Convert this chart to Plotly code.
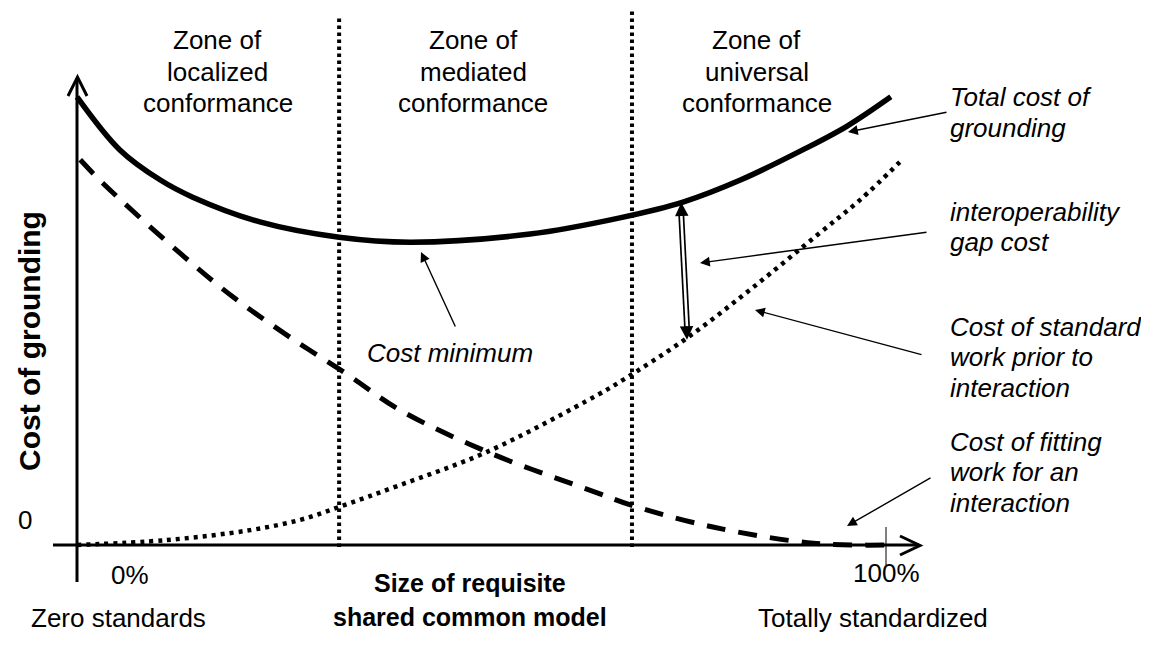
import plotly.graph_objects as go

# ---------------- data (conceptual units: x = % standardization, y = cost) ----------------
total_x = [0.0, 5.3, 10.3, 14.3, 22.6, 32.4, 41.2, 56.0, 67.1, 74.9, 82.0, 89.7, 95.2, 100.6]
total_y = [99.6, 87.8, 81.1, 77.3, 71.8, 68.4, 67.3, 69.1, 72.7, 76.2, 81.1, 87.8, 93.1, 99.6]

fit_x = [0.4, 3.2, 12.7, 19.3, 26.3, 33.5, 39.9, 51.1, 64.3, 68.4, 78.6, 91.0, 100.0]
fit_y = [85.6, 80.4, 64.9, 55.1, 46.2, 37.8, 30.0, 20.4, 11.6, 8.9, 4.0, 0.4, 0.0]

std_x = [0.0, 11.1, 21.4, 27.6, 32.3, 39.9, 50.7, 64.3, 67.5, 75.4, 83.6, 91.5, 96.8, 101.7]
std_y = [0.0, 1.1, 3.3, 5.6, 8.4, 13.3, 20.7, 33.3, 36.7, 46.0, 57.3, 68.9, 76.7, 85.1]

zone_bounds = [32.4, 68.6]
zone_centers = [17.4, 49.0, 84.0]
zone_labels = [["Zone of", "localized", "conformance"],
               ["Zone of", "mediated", "conformance"],
               ["Zone of", "universal", "conformance"]]

gap_top = (74.7, 76.1)
gap_bottom = (75.4, 45.6)

x_tick_labels = ["0%", "100%"]
x_tick_values = [0, 100]
y_tick_labels = ["0"]

series_labels = [["Total cost of", "grounding"],
                 ["interoperability", "gap cost"],
                 ["Cost of standard", "work prior to", "interaction"],
                 ["Cost of fitting", "work for an", "interaction"]]

# ---------------- layout geometry ----------------
PAGE_W, PAGE_H = 1149, 648
OFF = 8                                   # default body margin of the page
W, H = PAGE_W - OFF, PAGE_H - OFF
X_PX0, X_SCALE = 77.0, 8.09     # screen pixel of x=0, pixels per unit
Y_PX0, Y_SCALE = 545.0, 4.5     # screen pixel of y=0, pixels per unit


def X(px):
    return (px - X_PX0) / X_SCALE


def Y(py):
    return (Y_PX0 - py) / Y_SCALE


FONT = "Liberation Sans, Arial, sans-serif"
FS = 25

fig = go.Figure()

# curves
fig.add_trace(go.Scatter(x=fit_x, y=fit_y, mode="lines", line_shape="spline",
                         line=dict(color="black", width=5, dash="19px,13px"),
                         hoverinfo="skip", showlegend=False))
fig.add_trace(go.Scatter(x=std_x, y=std_y, mode="lines", line_shape="spline",
                         line=dict(color="black", width=4.5, dash="4px,5px"),
                         hoverinfo="skip", showlegend=False))
fig.add_trace(go.Scatter(x=total_x, y=total_y, mode="lines", line_shape="spline",
                         line=dict(color="black", width=5.5),
                         hoverinfo="skip", showlegend=False))

# gap double arrow shaft (hollow)
sx = [gap_top[0], gap_bottom[0]]
sy = [gap_top[1] - 13 / Y_SCALE, gap_bottom[1] + 13 / Y_SCALE]
fig.add_trace(go.Scatter(x=sx, y=sy, mode="lines", line=dict(color="black", width=6),
                         hoverinfo="skip", showlegend=False))
fig.add_trace(go.Scatter(x=sx, y=sy, mode="lines", line=dict(color="white", width=2.6),
                         hoverinfo="skip", showlegend=False))

shapes = []
# zone boundaries
for xb, top in zip(zone_bounds, [Y(15), Y(9)]):
    shapes.append(dict(type="line", xref="x", yref="y", x0=xb, x1=xb, y0=Y(547), y1=top,
                       line=dict(color="black", width=4, dash="3.5px,3.5px")))
# axes
shapes.append(dict(type="line", xref="x", yref="y", x0=X(53), x1=X(919), y0=0, y1=0,
                   line=dict(color="black", width=3)))
shapes.append(dict(type="line", xref="x", yref="y", x0=0, x1=0, y0=Y(582), y1=Y(78),
                   line=dict(color="black", width=3)))
# arrow chevrons on the axes
shapes.append(dict(type="path", xref="x", yref="y",
                   path=f"M{X(68)},{Y(96)} L{X(77.5)},{Y(77)} L{X(87)},{Y(96)}",
                   line=dict(color="black", width=3)))
shapes.append(dict(type="path", xref="x", yref="y",
                   path=f"M{X(900)},{Y(536)} L{X(920)},{Y(545.5)} L{X(900)},{Y(555)}",
                   line=dict(color="black", width=3)))
# 100% tick
shapes.append(dict(type="line", xref="x", yref="y", x0=100, x1=100, y0=Y(565), y1=Y(527),
                   line=dict(color="black", width=1)))

ann = []


def txt(x, y, s, size=FS, anchor="center", style="normal", weight="normal", angle=0):
    ann.append(dict(x=x, y=y, xref="x", yref="y", text=s, showarrow=False,
                    xanchor=anchor, yanchor="middle", textangle=angle,
                    font=dict(family=FONT, size=size, color="black", style=style, weight=weight)))


def arrow(x, y, ax, ay, size=1.4, width=1.4):
    ann.append(dict(x=x, y=y, ax=ax, ay=ay, xref="x", yref="y", axref="x", ayref="y",
                    text="", showarrow=True, arrowhead=2, arrowsize=size, arrowwidth=width,
                    arrowcolor="black", standoff=0))


# zone labels
for cx, lines in zip(zone_centers, zone_labels):
    for i, s in enumerate(lines):
        txt(cx, Y(40 + 31.5 * i), s, size=26)

# right-hand series labels
label_rows = [[97, 128], [212, 242], [327, 357, 388], [442, 472, 503]]
for lines, rows in zip(series_labels, label_rows):
    for s, r in zip(lines, rows):
        txt(X(948), Y(r), s, anchor="left", style="italic", size=26)

txt(X(450), Y(353), "Cost minimum", style="italic", size=26)

# pointer arrows
arrow(X(848), Y(132), X(948), Y(112))
arrow(X(700), Y(263), X(928), Y(232))
arrow(X(755), Y(310), X(923), Y(355))
arrow(X(847), Y(526), X(932), Y(477))
arrow(X(421), Y(252), X(456), Y(328))

# gap arrow heads
arrow(gap_top[0], gap_top[1], gap_top[0] + 0.06, gap_top[1] - 15 / Y_SCALE, size=1.8, width=1.5)
arrow(gap_bottom[0], gap_bottom[1], gap_bottom[0] - 0.06, gap_bottom[1] + 15 / Y_SCALE, size=1.8, width=1.5)

# axis tick labels & titles
txt(X(130), Y(575), x_tick_labels[0], size=26)
txt(X(886), Y(573), x_tick_labels[1], size=26)
txt(X(25), Y(520), y_tick_labels[0], size=26)
txt(X(118), Y(618), "Zero standards", size=26)
txt(X(873), Y(618), "Totally standardized", size=26)
txt(X(470), Y(583), "Size of requisite", weight="bold")
txt(X(470), Y(617), "shared common model", weight="bold")
txt(X(29), Y(341), "Cost of grounding", weight="bold", angle=-90, size=30)

fig.update_layout(
    width=W, height=H, autosize=False,
    margin=dict(l=0, r=0, t=0, b=0),
    paper_bgcolor="white", plot_bgcolor="white",
    xaxis=dict(range=[X(OFF), X(OFF + W)], visible=False, fixedrange=True),
    yaxis=dict(range=[Y(OFF + H), Y(OFF)], visible=False, fixedrange=True),
    shapes=shapes, annotations=ann, showlegend=False,
)

fig.write_html("out.html")
